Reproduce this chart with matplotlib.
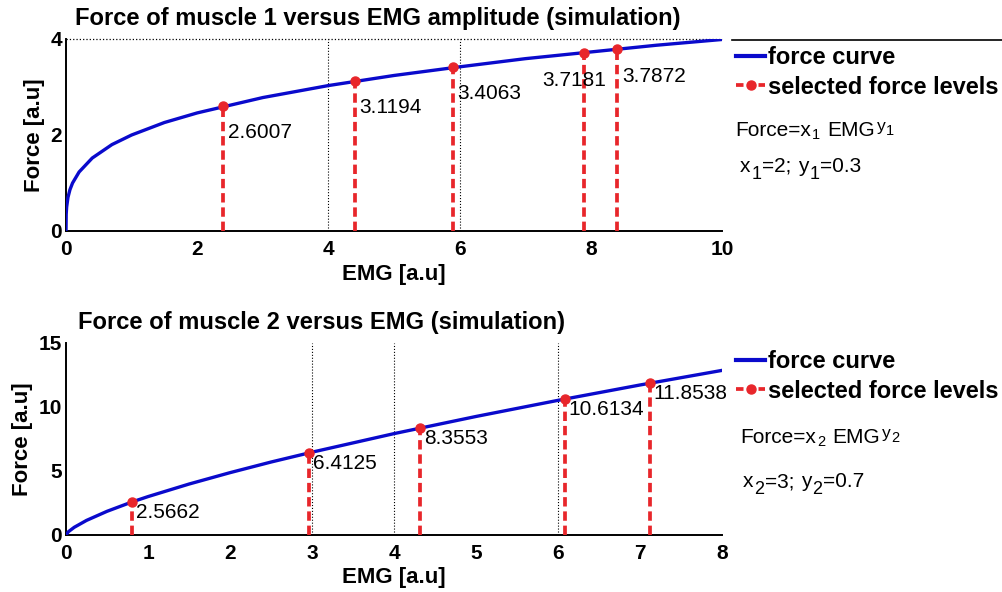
import matplotlib
matplotlib.use('Agg')
import matplotlib.pyplot as plt
from matplotlib.lines import Line2D

plt.rcParams['font.family'] = ['Liberation Sans', 'DejaVu Sans']

# ---- data ----
# muscle 1 force curve
emg1 = [0, 0.003, 0.01, 0.03, 0.06, 0.1, 0.2, 0.4, 0.7, 1, 1.5, 2, 3, 4, 5, 6, 7, 8, 9, 10]
force1 = [0, 0.35, 0.50, 0.70, 0.86, 1.00, 1.23, 1.52, 1.80, 2.00, 2.26, 2.46, 2.78,
          3.03, 3.24, 3.42, 3.59, 3.73, 3.87, 3.99]
sel_emg1 = [2.4, 4.4, 5.9, 7.9, 8.4]
sel_force1 = [2.6007, 3.1194, 3.4063, 3.7181, 3.7872]
grid1 = [4, 6]

# muscle 2 force curve
emg2 = [0, 0.03, 0.1, 0.25, 0.5, 0.8, 1, 1.5, 2, 2.5, 3, 4, 5, 6, 7, 8]
force2 = [0, 0.26, 0.60, 1.14, 1.85, 2.57, 3.00, 3.98, 4.87, 5.70, 6.47, 7.92,
          9.26, 10.52, 11.72, 12.86]
sel_emg2 = [0.8, 2.96, 4.32, 6.08, 7.12]
sel_force2 = [2.5662, 6.4125, 8.3553, 10.6134, 11.8538]
grid2 = [3, 4, 6]

BLUE = '#0a0acc'
RED = '#e8262b'
W, H = 1003, 592

fig = plt.figure(figsize=(W / 100, H / 100), dpi=100)
renderer = fig.canvas.get_renderer()


def write_pieces(x_px, base_px, pieces):
    # pieces: (text, fontsize, raise in px, gap before in px)
    x = x_px
    for s, size, dy, gap in pieces:
        x += gap
        t = fig.text(x / W, 1 - (base_px - dy) / H, s, fontsize=size,
                     ha='left', va='baseline')
        x = t.get_window_extent(renderer).x1


panels = [
    dict(emg=emg1, force=force1, sel_x=sel_emg1, sel_y=sel_force1, grid=grid1,
         rect=[66 / W, 1 - 231 / H, 656 / W, 192 / H], xlim=(0, 10), ylim=(0, 4),
         xticks=[0, 2, 4, 6, 8, 10], yticks=[0, 2, 4],
         title='Force of muscle 1 versus EMG amplitude (simulation)', title_xy=(75, 18),
         offsets=[(5, -17), (5, -17), (4, -17), (-42, -18), (5, -18)],
         idx='1', xval='2', yval='0.3', eq_xy=(735, 136), par_xy=(740, 172),
         top_dotted=True, xlabelpad=3.5),
    dict(emg=emg2, force=force2, sel_x=sel_emg2, sel_y=sel_force2, grid=grid2,
         rect=[66 / W, 1 - 535 / H, 656 / W, 192 / H], xlim=(0, 8), ylim=(0, 15),
         xticks=list(range(9)), yticks=[0, 5, 10, 15],
         title='Force of muscle 2 versus EMG (simulation)', title_xy=(78, 323),
         offsets=[(4, -1)] * 5,
         idx='2', xval='3', yval='0.7', eq_xy=(740, 443), par_xy=(743, 487),
         top_dotted=False, xlabelpad=3),
]

for p in panels:
    ax = fig.add_axes(p['rect'])
    for g in p['grid']:
        ax.axvline(g, color='black', ls=':', lw=0.8, zorder=1)
    if p['top_dotted']:
        ax.axhline(p['ylim'][1], color='black', ls=':', lw=0.9, zorder=1, clip_on=False)
    ax.plot(p['emg'], p['force'], color=BLUE, lw=2.4, zorder=3)
    for x, y in zip(p['sel_x'], p['sel_y']):
        ax.plot([x, x], [0, y], color=RED, lw=2.7, ls=(0, (2.5, 1.3)), zorder=4)
    ax.plot(p['sel_x'], p['sel_y'], 'o', color=RED, ms=6.5, zorder=5)
    for x, y, (dx, dy) in zip(p['sel_x'], p['sel_y'], p['offsets']):
        ax.annotate('%.4f' % y, (x, y), xytext=(dx, dy), textcoords='offset pixels',
                    ha='left', va='top', fontsize=15, zorder=6)

    ax.set_xlim(*p['xlim'])
    ax.set_ylim(*p['ylim'])
    ax.set_xticks(p['xticks'])
    ax.set_yticks(p['yticks'])
    ax.tick_params(direction='in', length=0, labelsize=15)
    ax.tick_params(axis='x', pad=6.6)
    ax.tick_params(axis='y', pad=3)
    for lab in ax.get_xticklabels() + ax.get_yticklabels():
        lab.set_fontweight('bold')
    ax.spines['top'].set_visible(False)
    ax.spines['right'].set_visible(False)
    ax.spines['left'].set_linewidth(1.4)
    ax.spines['bottom'].set_linewidth(1.4)
    ax.set_xlabel('EMG [a.u]', fontsize=16, fontweight='bold', labelpad=p['xlabelpad'])
    ax.set_ylabel('Force [a.u]', fontsize=16, fontweight='bold', labelpad=4)
    ax.patch.set_visible(False)

    fig.text(p['title_xy'][0] / W, 1 - p['title_xy'][1] / H, p['title'],
             fontsize=17.1, fontweight='bold', ha='left', va='center')

    handles = [Line2D([], [], color=BLUE, lw=3),
               Line2D([], [], color=RED, lw=2.7, ls=(0, (2.0, 1.0)), marker='o', ms=6.5)]
    ax.legend(handles, ['force curve', 'selected force levels'], loc='upper left',
              bbox_to_anchor=(1.022, 0.964), frameon=False, borderpad=0, borderaxespad=0,
              handlelength=1.2, handletextpad=0.15, labelspacing=0.28,
              prop={'size': 17, 'weight': 'bold'})

    i = p['idx']
    write_pieces(p['eq_xy'][0], p['eq_xy'][1],
                 [('Force=x', 15, 0, 0), (i, 10.5, -3, 1), ('EMG', 15, 0, 7),
                  ('y', 12.5, 5, 2), (i, 10.5, 1, 1)])
    write_pieces(p['par_xy'][0], p['par_xy'][1],
                 [('x', 15, 0, 0), (i, 13, -7, 1), ('=' + p['xval'] + ';', 15, 0, 1),
                  ('y', 15, 0, 6), (i, 13, -7, 1), ('=' + p['yval'], 15, 0, 1)])

# thin black line at the top right of the first panel
fig.add_artist(Line2D([732 / W, 1.0], [1 - 40 / H] * 2, color='black', lw=1.2))

fig.savefig('out.png', dpi=100, facecolor='white')
